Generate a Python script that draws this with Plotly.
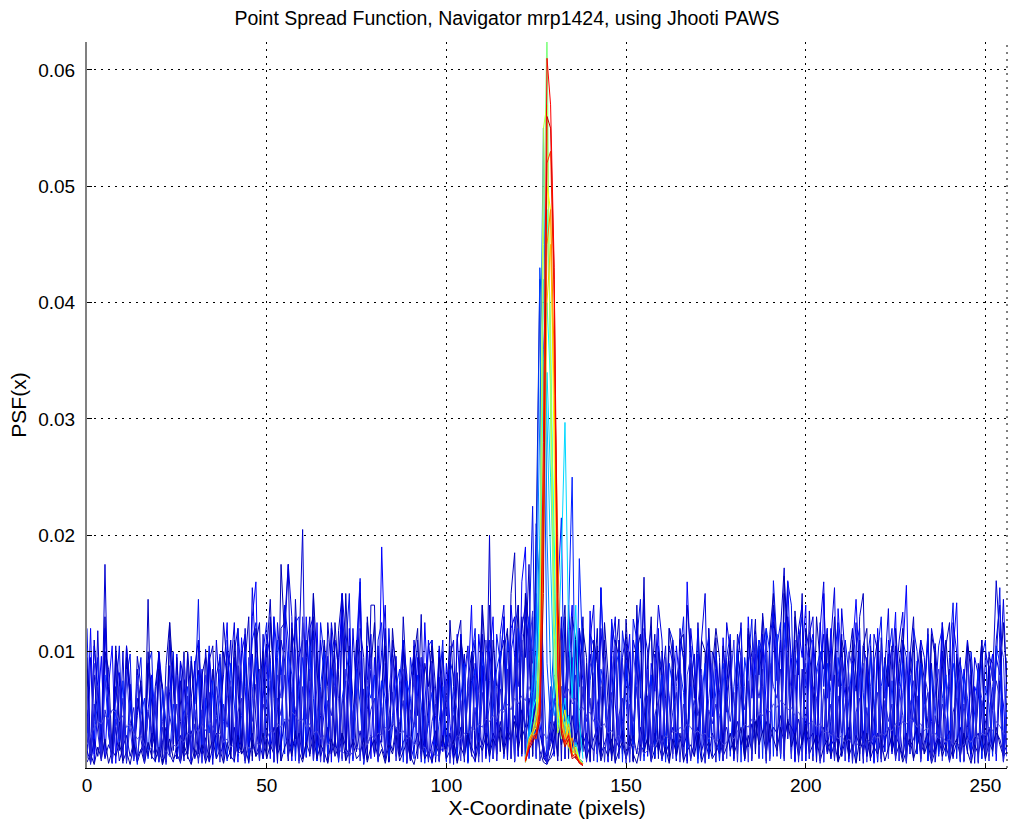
import plotly.graph_objects as go

# PSF values are stored in units of 1e-4 (e.g. 175 -> 0.0175)
UNIT = 1e-4

blue_1 = [8,95,12,118,20,175,30,6,90,15,100,4,72,10,85,25,
          5,88,18,70,96,3,20,66,92,8,75,14,98,6,60,84,
          10,102,60,3,80,95,12,70,110,5,88,20,120,8,98,42,
          6,115,15,130,85,4,110,92,10,125,25,100,205,9,55,118,
          12,45,105,5,120,18,95,130,7,88,15,110,75,3,50,84,
          10,105,22,90,6,35,96,12,80,4,74,100,8,85,20,38,
          92,5,78,15,68,105,3,82,18,98,6,75,110,12,88,20,
          200,8,40,95,10,115,80,5,120,14,150,20,130,10,70,12,
          5,8,15,110,6,130,20,95,8,118,14,90,5,75,105,9,
          82,12,96,4,110,20,78,100,6,125,15,40,88,8,98,12,
          72,105,6,85,15,120,92,4,75,98,10,80,20,102,66,5,
          90,14,76,110,8,85,125,20,95,6,118,80,130,12,105,140,
          10,120,172,25,70,110,8,85,15,98,72,5,90,115,18,40,
          80,6,100,70,12,92,66,110,4,85,20,30,96,8,50,88,
          15,105,40,8,95,55,6,82,110,12,45,90,5,38,100,14,
          85,8,72,95,15,35,80,4,90,42,10,100,75,161,110,6,
          45]
blue_2 = [30,120,5,50,96,10,70,105,4,82,15,90,62,8,45,70,
          6,50,80,12,100,68,5,88,20,98,8,76,55,4,92,15,
          85,6,98,62,10,48,80,125,14,95,5,112,70,9,130,160,
          12,60,105,8,130,50,15,140,80,6,130,68,10,130,60,7,
          125,18,48,96,5,110,85,150,12,120,6,92,160,20,105,8,
          95,15,190,85,5,102,60,10,110,50,6,40,95,12,125,55,
          4,45,102,14,90,38,7,115,58,10,70,140,5,115,80,12,
          95,130,6,88,130,18,140,95,10,160,190,8,65,140,40,10,
          4,30,12,80,120,8,96,140,15,105,75,6,135,50,12,155,
          70,5,128,55,14,40,80,115,8,100,75,145,10,90,66,120,
          6,88,62,12,105,70,5,160,82,10,98,66,14,120,44,85,
          8,112,60,95,12,102,70,6,130,60,98,18,115,52,8,133,
          80,10,100,161,70,5,120,95,140,8,110,80,15,150,60,120,
          9,137,88,60,5,100,145,75,10,95,66,4,120,55,14,110,
          85,134,6,98,157,15,50,92,8,66,107,40,12,60,125,80,
          5,100,142,16,85,45,7,70,60,110,12,80,98,6,75,55,
          10]
blue_3 = [85,5,110,60,8,130,50,14,70,40,4,105,62,10,96,70,
          12,145,8,60,100,5,88,125,15,95,40,6,100,58,10,105,
          60,4,92,105,14,40,125,88,8,100,120,12,90,130,6,108,
          125,10,98,145,60,6,120,125,175,15,145,70,8,95,130,12,
          100,60,5,125,85,12,118,150,8,105,60,14,120,95,7,140,
          140,12,60,120,5,98,75,18,130,62,8,105,45,132,10,58,
          110,68,6,100,45,90,14,110,127,5,75,98,16,66,115,10,
          140,60,12,95,110,7,150,185,20,130,95,175,10,150,60,15,
          8,25,40,6,95,60,120,12,110,70,130,8,98,70,120,10,
          110,55,6,95,128,12,100,80,5,140,60,164,14,70,115,8,
          100,60,10,110,75,95,5,140,100,12,125,55,8,120,60,112,
          6,105,48,92,15,115,95,8,110,80,128,10,133,95,12,125,
          110,9,150,125,14,130,80,150,6,135,60,12,100,85,120,8,
          95,70,115,6,92,120,12,130,150,10,105,50,5,112,60,98,
          14,120,75,110,6,95,130,12,100,55,120,8,107,60,15,105,
          125,10,98,55,6,110,80,14,60,105,8,88,50,110,140,12,
          60]
blue_4 = [120,8,40,95,14,100,45,5,62,105,10,78,98,6,70,95,
          12,88,100,5,80,70,15,45,100,8,90,40,12,96,55,145,
          10,60,105,8,45,98,12,110,55,5,120,75,14,60,110,125,
          8,100,125,12,130,95,6,140,110,15,125,130,10,110,75,150,
          6,125,95,12,110,80,5,130,100,150,14,105,163,8,125,90,
          12,110,125,6,120,60,15,75,110,8,95,70,110,5,60,105,
          110,12,70,110,6,92,80,14,115,60,5,90,120,12,100,75,
          110,8,115,90,130,12,100,120,140,10,130,110,225,15,60,14,
          6,50,10,70,105,8,140,80,12,120,95,6,115,105,15,155,
          80,6,125,105,12,118,90,5,128,110,145,10,95,120,8,105,
          80,12,120,110,6,95,130,14,105,60,120,8,95,112,10,100,
          60,6,95,115,12,105,120,8,90,128,14,110,100,120,10,161,
          105,125,8,160,140,12,110,130,6,100,115,14,125,70,120,8,
          95,125,10,110,80,6,105,120,12,90,115,5,100,130,14,95,
          120,8,70,110,95,12,120,100,6,70,115,14,60,105,120,10,
          95,142,8,90,70,12,100,60,5,95,110,14,70,90,155,10,
          95]
blue_5 = [50,6,105,70,12,120,60,5,100,75,14,105,70,8,60,40,
          10,90,70,6,98,62,14,110,70,8,92,75,12,60,88,110,
          8,50,95,12,110,60,5,100,85,125,14,98,115,8,155,90,
          12,70,115,95,6,125,80,110,175,130,10,95,110,14,120,130,
          8,110,80,12,125,95,6,150,110,14,120,60,150,8,75,115,
          10,60,100,140,6,110,90,14,105,80,8,110,60,95,12,110,
          75,8,105,70,14,95,110,6,115,80,105,12,90,65,140,8,
          100,75,12,115,140,8,120,130,10,120,140,100,12,210,150,15,
          6,35,12,55,130,8,100,80,14,120,90,6,110,140,12,120,
          70,10,100,130,8,95,115,12,110,95,6,120,100,14,75,140,
          110,8,105,90,12,110,95,6,120,85,14,110,150,8,100,90,
          65,12,125,100,6,70,95,14,115,80,110,8,100,90,12,125,
          75,110,10,130,95,6,120,140,12,115,130,8,120,160,14,110,
          155,10,137,95,8,80,125,12,105,90,6,115,100,14,85,137,
          12,70,110,134,8,100,60,14,110,95,6,120,100,12,125,70,
          14,125,100,6,75,110,12,95,80,8,100,85,14,95,80,145,
          60]
blue_6 = [95,10,80,45,6,100,85,12,105,40,8,95,60,14,50,75,
          6,100,60,12,85,70,5,125,80,14,55,100,8,92,48,12,
          80,95,6,85,55,14,100,80,8,110,70,12,95,60,10,120,
          70,100,8,125,80,12,175,110,6,120,100,14,125,95,10,150,
          90,6,110,70,12,125,80,8,150,70,14,110,90,6,130,85,
          125,12,70,105,6,120,80,14,100,65,8,95,120,10,90,70,
          105,12,95,60,8,127,70,14,110,85,6,100,75,12,140,90,
          10,110,70,14,100,120,8,75,140,12,150,120,10,200,420,8,
          5,40,80,10,100,140,8,130,110,12,120,95,6,110,90,14,
          125,80,8,110,95,12,128,70,6,100,115,14,85,130,8,100,
          75,12,120,95,6,110,115,14,90,70,8,110,100,12,85,120,
          95,6,70,110,14,100,75,8,120,95,12,105,70,6,115,150,
          90,12,165,110,8,135,95,14,120,100,6,130,90,12,115,75,
          130,8,110,95,14,110,80,6,105,120,12,90,110,8,95,70,
          105,14,90,120,6,80,110,12,100,75,8,115,95,14,85,110,
          70,12,95,80,6,105,90,14,70,110,8,95,90,12,75,125,
          70]
blue_7 = [40,4,25,60,8,80,30,5,50,20,75,6,58,30,3,45,
          60,8,75,50,5,68,40,10,55,30,4,45,70,8,55,80,
          5,60,30,75,8,85,40,6,90,55,10,45,100,4,60,95,
          70,8,60,90,5,110,85,12,100,80,6,70,95,10,105,60,
          6,70,100,12,85,70,5,60,80,100,8,85,55,4,70,60,
          80,6,75,60,10,45,70,85,5,75,60,8,80,55,4,45,
          65,10,40,70,5,85,50,8,60,90,4,70,85,10,95,75,
          5,60,85,100,8,110,90,6,120,95,12,130,100,8,190,80,
          4,60,110,150,215,12,120,250,10,180,90,8,75,100,5,85,
          70,8,60,85,100,5,90,60,12,110,75,6,60,80,10,55,
          80,5,90,70,8,85,65,12,70,50,4,60,90,8,85,60,
          6,90,60,10,70,100,5,95,70,12,85,110,8,120,100,10,
          115,8,125,90,12,85,100,6,80,95,10,85,100,5,90,65,
          8,95,70,12,60,90,5,100,65,10,95,60,6,70,90,12,
          75,8,60,90,5,80,55,12,90,60,6,85,55,10,60,80,
          8,90,70,5,80,60,12,50,85,8,70,55,10,105,90,6,
          50]
blue_8 = [70,5,90,55,10,75,60,4,40,70,8,85,35,6,80,45,
          8,50,30,65,5,40,70,12,35,80,6,95,45,10,50,35,
          4,80,50,12,70,55,5,60,75,10,105,80,6,95,70,12,
          85,8,95,75,5,80,60,120,10,70,100,6,130,75,12,110,
          60,5,80,110,12,90,60,6,85,70,10,55,100,5,60,95,
          12,90,55,6,65,95,10,70,85,5,45,80,12,95,50,8,
          90,60,5,45,75,12,65,50,6,70,100,10,80,65,5,110,
          75,8,65,90,10,80,105,6,90,115,12,100,135,8,90,20,
          6,70,15,120,100,8,130,95,10,75,100,5,90,80,12,70,
          95,6,80,105,12,90,60,5,100,70,10,55,85,6,95,60,
          10,95,55,8,70,100,6,80,95,12,55,85,5,60,90,10,
          60,85,8,70,110,12,100,70,5,85,115,10,80,110,6,120,
          100,12,110,95,8,100,115,6,105,90,12,80,95,5,70,90,
          10,80,95,6,100,85,12,75,90,5,70,95,10,100,65,8,
          100,70,6,65,85,12,75,60,5,80,65,10,70,85,6,60,
          80,12,65,85,5,90,60,10,75,60,6,70,90,12,110,95,
          10]
blue_9 = [15,5,25,10,30,8,20,12,35,6,18,28,10,22,5,15,
          25,10,30,18,8,22,35,12,5,20,28,10,15,32,8,20,
          12,26,5,18,30,10,22,8,15,35,12,25,6,20,30,10,
          22,8,28,15,35,12,20,40,10,25,18,30,8,22,35,15,
          28,10,20,35,12,25,8,30,18,10,25,15,32,8,20,28,
          12,30,18,8,25,15,35,10,22,28,6,18,30,12,25,8,
          20,32,10,25,15,30,8,22,35,12,28,18,10,30,20,38,
          15,30,22,40,18,35,25,45,30,50,35,60,40,55,30,15,
          10,20,35,50,40,55,30,45,25,38,20,30,15,25,35,12,
          22,30,10,25,18,32,8,20,28,12,35,18,25,10,30,15,
          28,12,22,35,10,25,18,30,8,22,35,15,25,10,30,20,
          12,28,35,15,25,40,20,32,18,38,25,45,30,40,22,35,
          30,45,25,40,35,28,42,20,35,25,30,15,28,35,12,25,
          18,30,10,25,35,15,28,20,32,10,25,18,30,12,22,35,
          15,28,20,10,30,18,25,35,12,22,30,8,20,28,15,25,
          32,10,22,35,18,28,12,25,30,15,22,35,18,30,25,12,
          20]
blue_10 = [20,28,35,40,38,45,42,50,48,40,45,35,38,30,25,28,
           20,15,18,10,12,8,15,10,20,18,25,22,30,28,35,30,
           38,32,40,35,28,30,22,25,18,20,12,15,10,18,15,22,
           20,28,25,32,30,38,35,42,40,48,45,40,42,35,38,30,
           32,25,28,20,22,15,18,12,15,10,14,18,15,22,20,28,
           25,30,28,35,32,38,35,30,32,25,28,20,22,15,18,12,
           15,10,12,18,15,22,20,28,25,30,28,35,32,38,35,42,
           40,45,42,50,48,55,50,60,55,62,58,70,60,75,50,30,
           25,35,55,60,70,62,68,55,60,50,52,45,48,40,42,35,
           38,30,32,25,28,20,22,18,20,15,18,12,15,20,18,25,
           22,28,25,32,30,35,32,38,35,30,32,28,30,25,28,22,
           25,20,22,28,25,32,30,38,35,42,40,48,45,52,48,55,
           52,58,55,50,52,45,48,42,45,38,40,35,38,30,32,28,
           30,25,28,22,25,20,22,18,20,25,22,28,25,30,28,35,
           32,38,35,40,38,42,40,35,38,32,35,28,30,25,28,22,
           25,20,22,18,20,25,22,28,25,30,28,35,32,40,36,30,
           28]
blue_11 = [5,12,3,18,8,25,4,15,10,22,6,14,3,20,9,16,
           4,22,10,6,18,3,14,25,8,12,5,20,10,3,16,8,
           20,5,14,25,8,16,4,22,10,6,28,12,18,5,24,10,
           15,30,8,20,12,35,6,18,25,10,32,14,5,22,12,28,
           8,20,14,4,25,10,18,30,6,15,22,8,12,26,5,18,
           24,8,16,4,20,12,28,6,14,22,10,3,18,25,8,14,
           5,20,12,28,8,15,24,4,18,10,30,12,6,22,15,28,
           10,25,18,35,12,30,22,40,15,35,25,45,20,38,15,5,
           3,12,25,40,20,35,45,18,30,12,25,8,20,15,28,6,
           18,10,25,5,15,22,8,28,12,4,20,14,26,6,16,22,
           8,18,4,25,12,30,6,15,20,10,28,5,16,22,8,14,
           25,10,18,30,12,22,35,8,28,15,40,20,32,12,38,25,
           15,35,22,42,18,30,10,25,38,12,20,28,6,18,24,10,
           22,5,15,28,10,20,4,25,14,30,8,18,12,24,6,16,
           28,10,20,5,15,25,8,18,30,12,22,4,16,26,10,20,
           6,18,25,10,30,14,4,20,12,28,8,22,15,35,20,10,
           14]
blue_12 = [45,3,55,30,6,50,35,4,42,25,60,5,38,52,8,40,
           4,48,30,58,6,35,3,45,28,55,5,40,62,8,38,4,
           50,6,65,22,42,5,55,35,70,8,48,60,4,58,40,72,
           6,55,40,75,5,60,45,80,8,65,50,4,70,42,85,6,
           38,65,5,58,45,70,8,55,75,4,48,62,6,68,25,50,
           60,5,52,18,45,65,6,40,58,4,50,35,62,8,45,5,
           40,55,6,48,62,4,45,18,58,8,70,25,52,5,65,30,
           55,75,6,68,50,85,8,95,70,110,5,120,90,100,6,20,
           4,30,60,85,110,8,95,60,80,5,70,40,60,6,55,70,
           5,50,65,8,45,60,4,55,40,70,6,48,62,5,45,58,
           8,60,22,48,65,5,55,40,6,58,45,62,4,50,38,55,
           45,6,58,40,65,5,70,50,75,8,80,60,85,4,90,70,
           60,85,6,95,65,80,5,75,90,8,70,60,4,68,35,55,
           6,62,30,55,70,4,48,60,8,52,20,45,65,5,58,40,
           55,6,68,45,4,58,40,62,8,50,65,5,45,25,55,42,
           5,48,60,8,55,28,45,65,4,58,40,6,50,75,60,5,
           45]

blue_series = [blue_1, blue_2, blue_3, blue_4, blue_5, blue_6,
               blue_7, blue_8, blue_9, blue_10, blue_11, blue_12]
blue_colors = ["#0000D0", "#0000FF", "#0000C0", "#0010F0", "#0000E0", "#0000B0",
               "#0020FF", "#3030E8", "#0000C8", "#5050E0", "#0000A8", "#2020D8"]

# Central traces (x = 122..138) that carry the bright peak
peak_x_start = 122
peak_blue = [8, 30, 60, 150, 430, 360, 90, 40, 60, 30, 70, 25, 40, 15, 20, 8, 5]
peak_azure = [6, 35, 80, 120, 300, 550, 200, 80, 45, 60, 30, 45, 20, 12, 18, 6, 4]
peak_sky = [8, 30, 45, 90, 200, 420, 300, 180, 60, 130, 40, 60, 25, 15, 22, 8, 5]
peak_cyan = [5, 20, 50, 60, 150, 350, 400, 330, 200, 40, 55, 30, 45, 12, 18, 6, 3]
peak_lcyan = [6, 25, 25, 40, 80, 200, 340, 250, 150, 90, 180, 297, 120, 60, 140, 40, 8]
peak_aqua = [6, 24, 30, 45, 90, 240, 480, 380, 150, 35, 50, 25, 40, 15, 20, 8, 4]
peak_green = [5, 20, 28, 40, 100, 450, 640, 300, 80, 55, 25, 40, 18, 10, 14, 6, 3]
peak_lime = [8, 25, 32, 50, 120, 550, 570, 350, 120, 30, 45, 20, 35, 12, 16, 8, 4]
peak_yellow = [5, 22, 30, 35, 70, 300, 500, 480, 250, 50, 35, 50, 20, 12, 18, 6, 3]
peak_amber = [6, 22, 28, 30, 55, 180, 400, 450, 320, 120, 40, 25, 38, 15, 12, 5, 3]
peak_orange = [5, 24, 30, 40, 60, 200, 450, 480, 350, 180, 45, 30, 18, 26, 10, 6, 3]
peak_redorange = [8, 20, 28, 25, 45, 220, 520, 530, 400, 100, 30, 20, 30, 12, 8, 5, 2]
peak_darkred = [6, 16, 22, 28, 40, 150, 560, 550, 420, 150, 30, 18, 25, 8, 10, 4, 2]
peak_red = [6, 18, 25, 30, 50, 280, 610, 570, 430, 80, 35, 22, 28, 10, 12, 5, 3]

peak_series = [peak_blue, peak_azure, peak_sky, peak_cyan, peak_lcyan, peak_aqua,
               peak_green, peak_lime, peak_yellow, peak_amber, peak_orange,
               peak_redorange, peak_darkred, peak_red]
peak_colors = ["#0040FF", "#0080FF", "#00BFFF", "#00FFFF", "#00D8FF", "#40FFBF",
               "#80FF80", "#BFFF40", "#FFFF00", "#FFBF00", "#FF8000",
               "#FF4000", "#BF0000", "#FF0000"]

x_ticks = [0, 50, 100, 150, 200, 250]
y_ticks = [0.01, 0.02, 0.03, 0.04, 0.05, 0.06]
y_tick_text = ["0.01", "0.02", "0.03", "0.04", "0.05", "0.06"]

fig = go.Figure()

for vals, col in zip(blue_series, blue_colors):
    xs = list(range(len(vals)))
    fig.add_trace(go.Scatter(x=xs, y=[v * UNIT for v in vals], mode="lines",
                             line=dict(color=col, width=1), hoverinfo="skip",
                             showlegend=False))

for vals, col in zip(peak_series, peak_colors):
    xs = list(range(peak_x_start, peak_x_start + len(vals)))
    fig.add_trace(go.Scatter(x=xs, y=[v * UNIT for v in vals], mode="lines",
                             line=dict(color=col, width=1), hoverinfo="skip",
                             showlegend=False))

font_family = "Liberation Sans, Arial, sans-serif"

fig.update_layout(
    width=1011, height=829,
    paper_bgcolor="white", plot_bgcolor="white",
    margin=dict(l=87, r=4, t=42, b=61, autoexpand=False),
    title=dict(text="Point Spread Function, Navigator mrp1424, using Jhooti PAWS",
               x=0.5015, xanchor="center", y=0.978, yanchor="middle",
               font=dict(family=font_family, size=19.5, color="black")),
    font=dict(family=font_family, size=19, color="black"),
    xaxis=dict(range=[0, 256], tickvals=x_ticks, ticktext=[str(t) for t in x_ticks],
               automargin=False,
               showgrid=True, gridcolor="black", griddash="2px,5px", gridwidth=1,
               zeroline=False, showline=True, linecolor="#000000", linewidth=1,
               ticks="inside", ticklen=5, tickcolor="black",
               title=dict(text="X-Coordinate (pixels)", font=dict(size=21), standoff=4),
               tickfont=dict(size=19)),
    yaxis=dict(range=[0, 0.0624], tickvals=y_ticks, ticktext=y_tick_text,
               automargin=False, ticklabelstandoff=6,
               showgrid=True, gridcolor="black", griddash="2px,5px", gridwidth=1,
               zeroline=False, showline=True, linecolor="#808080", linewidth=2,
               ticks="inside", ticklen=5, tickcolor="black",
               title=dict(text="PSF(x)", font=dict(size=21), standoff=6),
               tickfont=dict(size=19)),
    shapes=[dict(type="line", xref="paper", yref="paper", x0=1, x1=1, y0=0, y1=1,
                 line=dict(color="black", width=1, dash="2px,5px"))],
)

fig.write_html("out.html", config={"displayModeBar": False},
               post_script="document.body.style.margin='0';")
